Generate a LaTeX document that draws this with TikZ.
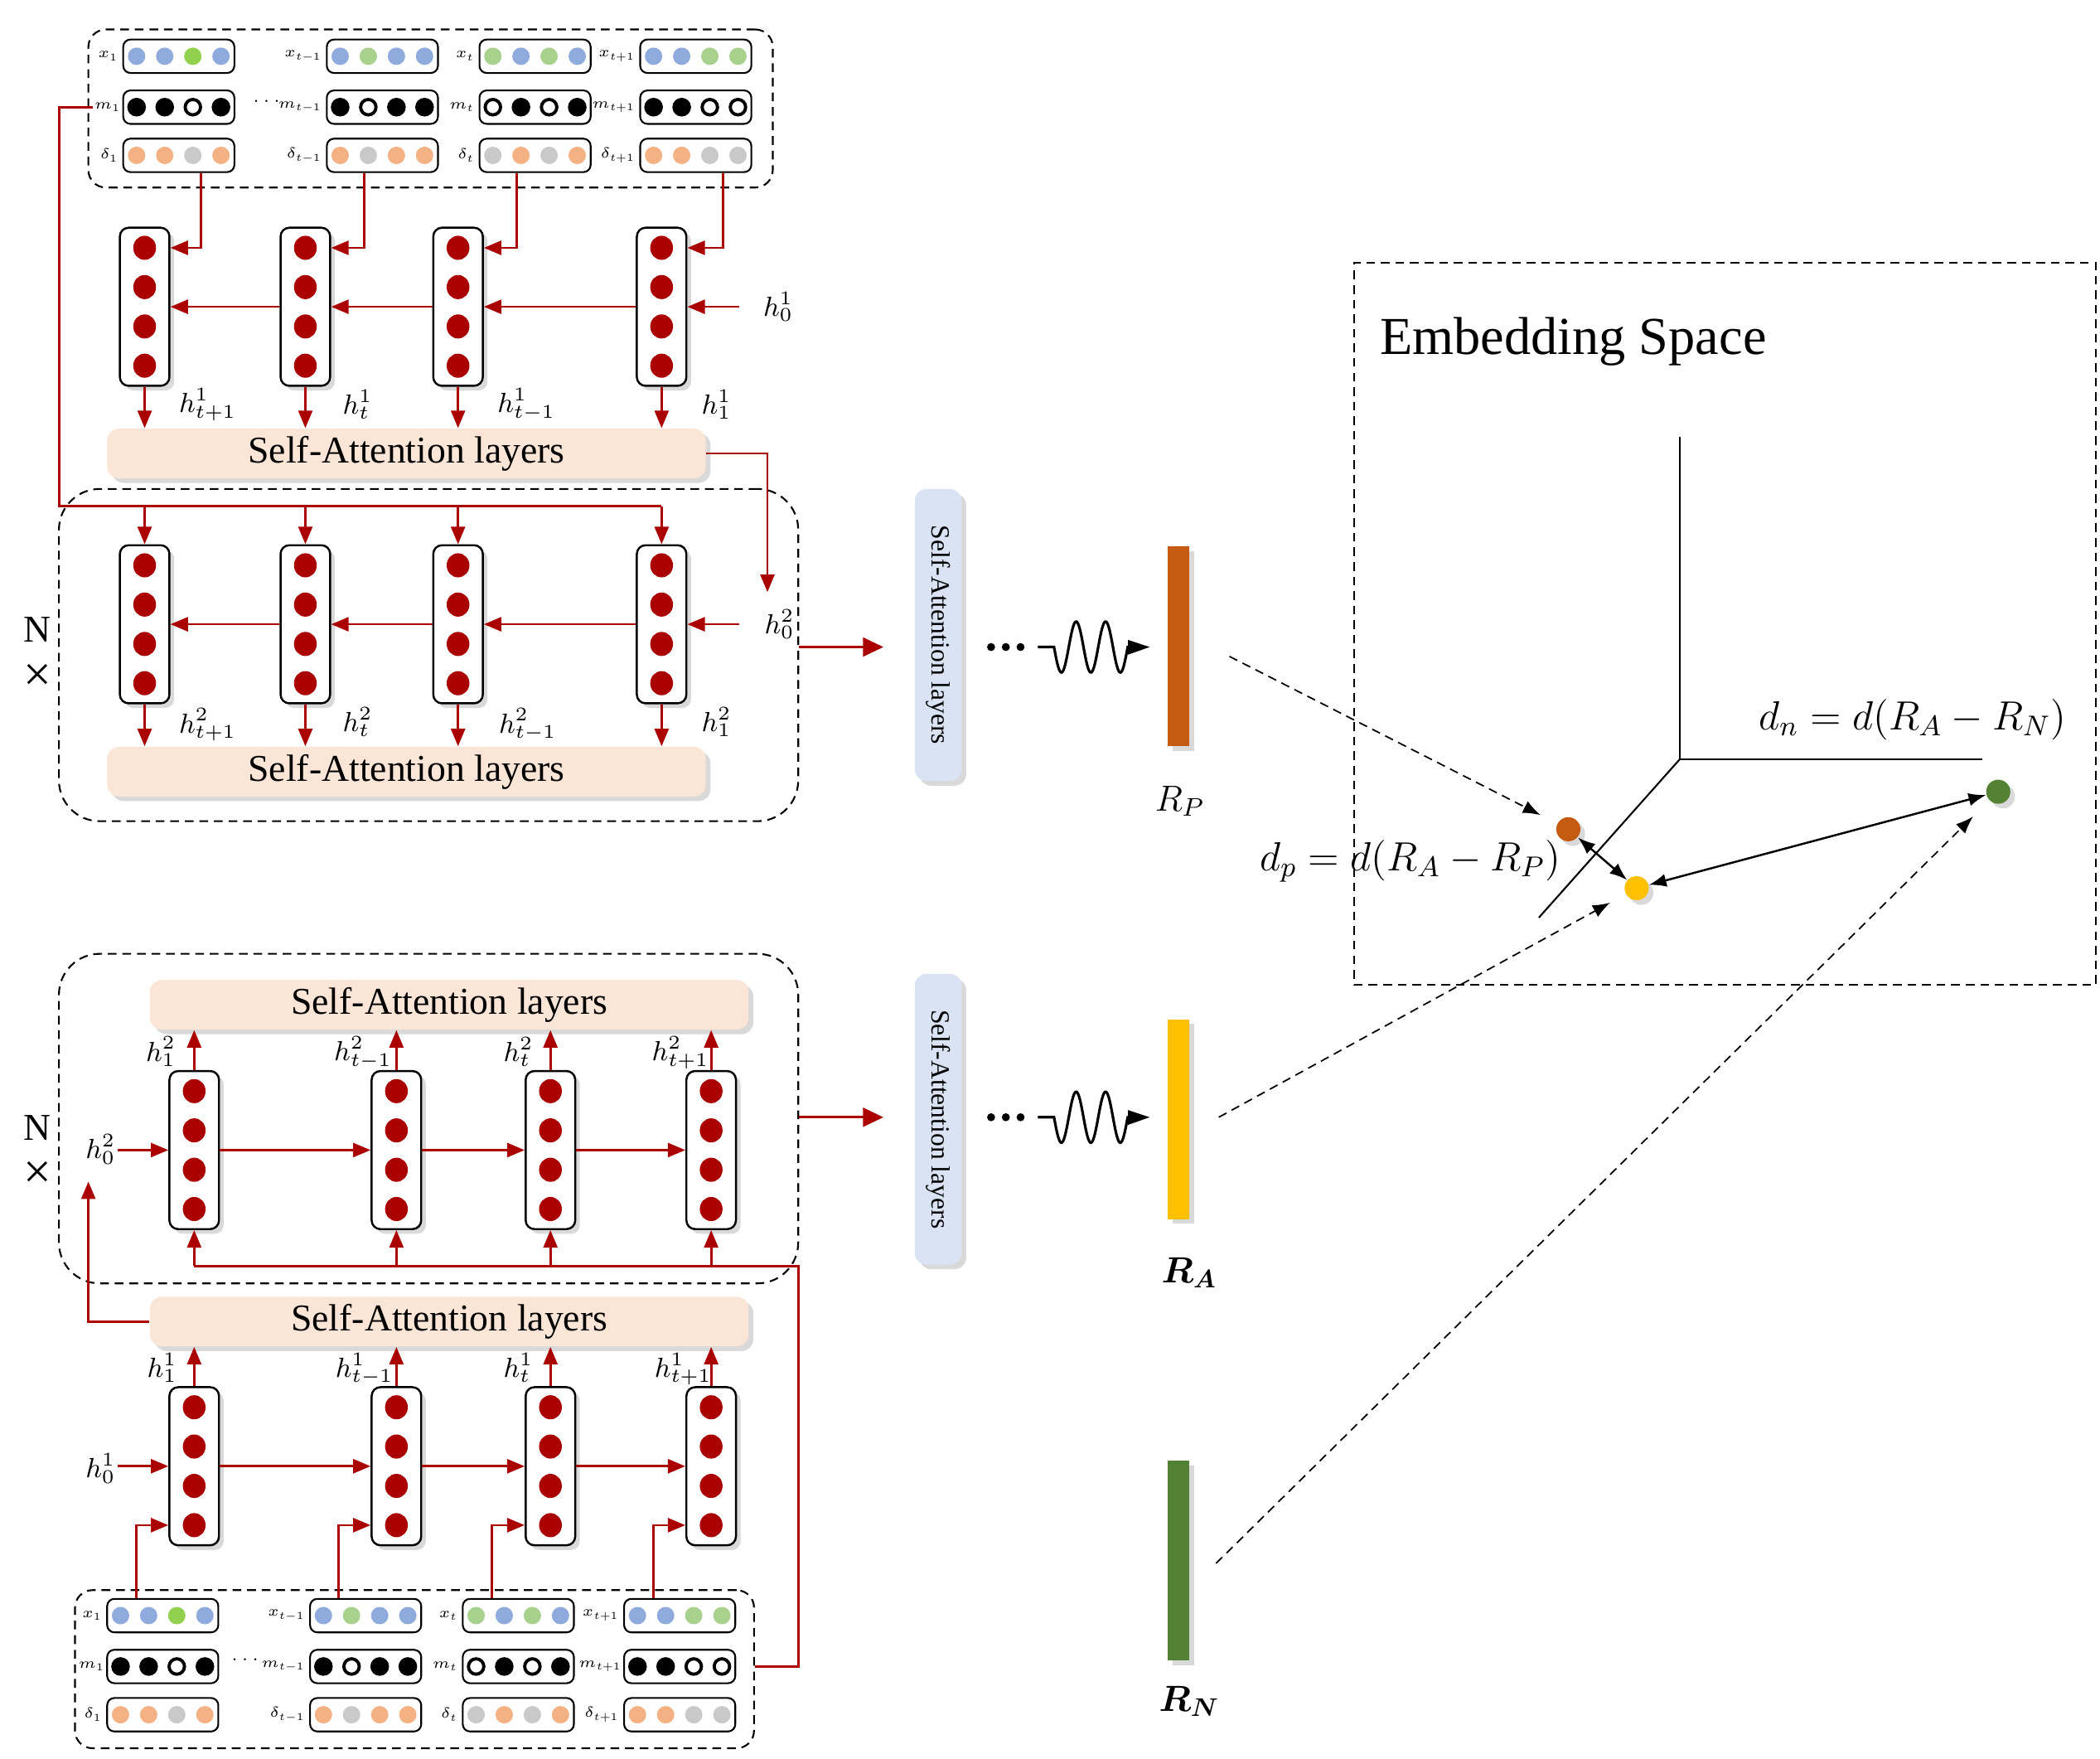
\RequirePackage{fix-cm}
\documentclass[tikz,border=0pt]{standalone}
\usepackage{fontspec}
\setmainfont{Liberation Serif}
\usepackage{bm}
\usepackage{graphicx}
\usetikzlibrary{arrows.meta,shadows,shapes.geometric,calc}
\DeclareMathSizes{5}{5}{3.6}{3}
\newdimen\uu \uu=0.01616cm
\definecolor{rnnred}{RGB}{170,0,0}
\definecolor{peach}{RGB}{251,229,214}
\definecolor{sablue}{RGB}{218,227,243}
\definecolor{xblue}{RGB}{143,170,220}
\definecolor{xgreen}{RGB}{169,209,142}
\definecolor{xlime}{RGB}{146,208,80}
\definecolor{dorange}{RGB}{244,177,131}
\definecolor{dgrey}{RGB}{201,201,201}
\definecolor{rpcol}{RGB}{197,90,17}
\definecolor{racol}{RGB}{255,192,0}
\definecolor{rncol}{RGB}{84,130,53}
\tikzset{
 shad/.style={drop shadow={opacity=0.3, shadow xshift=1.6pt, shadow yshift=-1.6pt}},
 col/.style={draw=black, line width=0.7pt, rounded corners=3pt, fill=white, minimum width=37*\uu, minimum height=118*\uu, inner sep=0pt, shad},
 rdot/.style={ellipse, fill=rnnred, minimum width=17*\uu, minimum height=18*\uu, inner sep=0pt},
 sabox/.style={fill=peach, rounded corners=4pt, minimum width=447*\uu, minimum height=37*\uu, inner sep=0pt, font=\fontsize{13}{15}\selectfont, shad},
 vbox/.style={fill=sablue, rounded corners=4pt, minimum width=35*\uu, minimum height=218*\uu, inner sep=0pt, shad},
 ibox/.style={draw=black, line width=0.6pt, rounded corners=2.5pt, fill=white, minimum width=83*\uu, minimum height=25*\uu, inner sep=0pt},
 idot/.style={circle, minimum size=13*\uu, inner sep=0pt},
 mdot/.style={circle, draw=black, line width=1.1pt, minimum size=11.5*\uu, inner sep=0pt},
 ilab/.style={font=\fontsize{5}{6}\selectfont, inner sep=1.2pt, anchor=east},
 hlab/.style={font=\fontsize{9.5}{11}\selectfont, inner sep=0pt},
 rline/.style={draw=rnnred, line width=0.8pt},
 rarr/.style={rline, -{Triangle[length=6pt,width=4.8pt]}},
 oarr/.style={rline, -{Triangle[length=7pt,width=6.5pt]}},
 dbox/.style={draw=black, line width=0.6pt, dash pattern=on 3pt off 2pt, rounded corners=14pt, inner sep=0pt},
 bar/.style={minimum width=16*\uu, minimum height=149*\uu, inner sep=0pt, shad},
 edot/.style={circle, minimum size=18*\uu, inner sep=0pt, shad},
 sdot/.style={circle, fill=black, minimum size=6*\uu, inner sep=0pt},
 dasharr/.style={draw=black, line width=0.5pt, dash pattern=on 3pt off 2pt, -{Latex[length=6pt,width=4.5pt]}},
 darr/.style={draw=black, line width=0.7pt, {Latex[length=6pt,width=4.5pt]}-{Latex[length=6pt,width=4.5pt]}},
 wavearr/.style={draw=black, line width=0.9pt, -{Triangle[length=7.5pt,width=4.8pt]}},
 bigtxt/.style={font=\fontsize{13}{15}\selectfont, inner sep=0pt},
}
\newcommand\ibx[5]{%
  \node[ibox] (#1) at (#2,#3) {};
  \foreach \s [count=\k] in {#5} \node[#4, fill=\s] (#1-\k) at ($(#1)+({21*\k-52.5},0)$) {};
}
\newcommand\colm[3]{%
  \node[col] (#1) at (#2,#3) {};
  \foreach \dy [count=\k] in {-44,-14.7,14.7,44} \node[rdot] (#1-\k) at ($(#1)+(0,\dy)$) {};
}
\begin{document}
\begin{tikzpicture}[x=\uu,y=-\uu]
\useasboundingbox (0,0) rectangle (1568,1313);

%% ================= TOP BRANCH =================
\node[dbox, rounded corners=6pt, minimum width=511*\uu, minimum height=118*\uu] (TIN) at (321.5,81) {};
\ibx{Tx1}{133.5}{42}{idot}{xblue,xblue,xlime,xblue}
\ibx{Tx2}{285.5}{42}{idot}{xblue,xgreen,xblue,xblue}
\ibx{Tx3}{399.5}{42}{idot}{xgreen,xblue,xgreen,xblue}
\ibx{Tx4}{519.5}{42}{idot}{xblue,xblue,xgreen,xgreen}
\ibx{Tm1}{133.5}{80}{mdot}{black,black,white,black}
\ibx{Tm2}{285.5}{80}{mdot}{black,white,black,black}
\ibx{Tm3}{399.5}{80}{mdot}{white,black,white,black}
\ibx{Tm4}{519.5}{80}{mdot}{black,black,white,white}
\ibx{Td1}{133.5}{116}{idot}{dorange,dorange,dgrey,dorange}
\ibx{Td2}{285.5}{116}{idot}{dorange,dgrey,dorange,dorange}
\ibx{Td3}{399.5}{116}{idot}{dgrey,dorange,dgrey,dorange}
\ibx{Td4}{519.5}{116}{idot}{dorange,dorange,dgrey,dgrey}
\node[ilab] (Tlx1) at (Tx1.west) {$x_1$};
\node[ilab] (Tlx2) at (Tx2.west) {$x_{t-1}$};
\node[ilab] (Tlx3) at (Tx3.west) {$x_t$};
\node[ilab] (Tlx4) at (Tx4.west) {$x_{t+1}$};
\node[ilab, inner sep=0.3pt] (Tlm1) at (Tm1.west) {$m_1$};
\node[ilab] (Tlm2) at (Tm2.west) {$m_{t-1}$};
\node[ilab] (Tlm3) at (Tm3.west) {$m_t$};
\node[ilab] (Tlm4) at (Tm4.west) {$m_{t+1}$};
\node[ilab] (Tld1) at (Td1.west) {$\delta_1$};
\node[ilab] (Tld2) at (Td2.west) {$\delta_{t-1}$};
\node[ilab] (Tld3) at (Td3.west) {$\delta_t$};
\node[ilab] (Tld4) at (Td4.west) {$\delta_{t+1}$};
\node[font=\fontsize{6}{7}\selectfont, inner sep=0pt] (Tdots) at (199,76) {$\cdots$};

% layer 1 (top)
\colm{TA1}{108}{229}
\colm{TB1}{228}{229}
\colm{TC1}{342}{229}
\colm{TD1}{494}{229}
\node[sabox] (TSA1) at (303.5,338.5) {Self-Attention layers};
\foreach \c/\d/\off in {TA1/Td1/16.5, TB1/Td2/-13.5, TC1/Td3/-13.5, TD1/Td4/20.5}
  \draw[rarr] ($(\d.south)+(\off,0)$) |- (\c.east |- \c-1);
\draw[rarr] (TD1.west) -- (TC1.east);
\draw[rarr] (TC1.west) -- (TB1.east);
\draw[rarr] (TB1.west) -- (TA1.east);
\coordinate (h01s) at (552,229);
\draw[rarr] (h01s) -- (TD1.east);
\node[hlab] (h01) at (581,229) {$h_0^1$};
\foreach \c in {TA1,TB1,TC1,TD1} \draw[rarr] (\c.south) -- (\c.south |- TSA1.north);
\node[hlab] (Tl1a) at (155,302) {$h^1_{t+1}$};
\node[hlab] (Tl1b) at (267,302) {$h^1_{t}$};
\node[hlab] (Tl1c) at (393,302) {$h^1_{t-1}$};
\node[hlab] (Tl1d) at (535,302) {$h^1_{1}$};

% layer 2 (top)
\node[dbox, minimum width=552*\uu, minimum height=248*\uu] (NB1) at (320,489) {};
\colm{TA2}{108}{466}
\colm{TB2}{228}{466}
\colm{TC2}{342}{466}
\colm{TD2}{494}{466}
\node[sabox] (TSA2) at (303.5,576) {Self-Attention layers};
\coordinate (mb) at (44,378);
\draw[rline] (Tlm1.west) -| (mb) -- (mb -| TD2.north);
\foreach \c in {TA2,TB2,TC2,TD2} \draw[rarr] (mb -| \c.north) -- (\c.north);
\coordinate (h02t) at (573,442);
\draw[rarr] (TSA1.east) -| (h02t);
\draw[rarr] (TD2.west) -- (TC2.east);
\draw[rarr] (TC2.west) -- (TB2.east);
\draw[rarr] (TB2.west) -- (TA2.east);
\coordinate (h02s) at (552,466);
\draw[rarr] (h02s) -- (TD2.east);
\node[hlab] (h02) at (582,466) {$h_0^2$};
\foreach \c in {TA2,TB2,TC2,TD2} \draw[rarr] (\c.south) -- (\c.south |- TSA2.north);
\node[hlab] (Tl2a) at (155,541) {$h^2_{t+1}$};
\node[hlab] (Tl2b) at (267,539) {$h^2_{t}$};
\node[hlab] (Tl2c) at (394,541) {$h^2_{t-1}$};
\node[hlab] (Tl2d) at (535,539) {$h^2_{1}$};
\node[bigtxt] (N1) at (28,470) {N};
\node[bigtxt, font=\fontsize{17}{18}\selectfont] (X1) at (28,506) {×};

% output chain (top)
\node[vbox] (V1) at (700.5,474) {\rotatebox{-90}{\fontsize{9}{10}\selectfont Self-Attention layers}};
\node[sdot] (dt1a) at (740,483) {};
\node[sdot] (dt1b) at (751,483) {};
\node[sdot] (dt1c) at (762,483) {};
\draw[oarr] (NB1.east |- dt1a) -- ($(V1.west |- dt1a)+(-23,0)$);
\node[bar, fill=rpcol] (RP) at (880,482.5) {};
\draw[wavearr] ($(dt1c)+(13,0)$) -- (787,483) -- plot[domain=0:2.5, samples=90, smooth] ({787+22*\x},{483+19*sin(360*\x)}) -- ($(RP.west |- dt1a)+(-13,0)$);
\node[font=\fontsize{12.5}{14}\selectfont, inner sep=0pt] (lRP) at (881,598) {$R_P$};

%% ================= BOTTOM BRANCH =================
\node[dbox, minimum width=552*\uu, minimum height=246*\uu] (NB2) at (320,835) {};
\node[sabox] (BSA2) at (335.5,750) {Self-Attention layers};
\colm{BA2}{145}{858.5}
\colm{BB2}{296}{858.5}
\colm{BC2}{411}{858.5}
\colm{BD2}{531}{858.5}
\draw[rarr] (BA2.east) -- (BB2.west);
\draw[rarr] (BB2.east) -- (BC2.west);
\draw[rarr] (BC2.east) -- (BD2.west);
\coordinate (bh02s) at (88,858.5);
\draw[rarr] (bh02s) -- (BA2.west);
\node[hlab] (bh02) at (75,858) {$h_0^2$};
\foreach \c in {BA2,BB2,BC2,BD2} \draw[rarr] (\c.north) -- (\c.north |- BSA2.south);
\node[hlab] (Bl2a) at (120,785) {$h^2_{1}$};
\node[hlab] (Bl2b) at (271,786) {$h^2_{t-1}$};
\node[hlab] (Bl2c) at (387,785) {$h^2_{t}$};
\node[hlab] (Bl2d) at (508,786) {$h^2_{t+1}$};
\node[bigtxt] (N2) at (28,842) {N};
\node[bigtxt, font=\fontsize{17}{18}\selectfont] (X2) at (28,877) {×};

\node[sabox] (BSA1) at (335.5,986.5) {Self-Attention layers};
\coordinate (ba) at (66,882);
\draw[rarr] (BSA1.west) -| (ba);
\colm{BA1}{145}{1094.5}
\colm{BB1}{296}{1094.5}
\colm{BC1}{411}{1094.5}
\colm{BD1}{531}{1094.5}
\draw[rarr] (BA1.east) -- (BB1.west);
\draw[rarr] (BB1.east) -- (BC1.west);
\draw[rarr] (BC1.east) -- (BD1.west);
\coordinate (bh01s) at (88,1094.5);
\draw[rarr] (bh01s) -- (BA1.west);
\node[hlab] (bh01) at (75,1096) {$h_0^1$};
\foreach \c in {BA1,BB1,BC1,BD1} \draw[rarr] (\c.north) -- (\c.north |- BSA1.south);
\node[hlab] (Bl1a) at (121,1021) {$h^1_{1}$};
\node[hlab] (Bl1b) at (272,1022) {$h^1_{t-1}$};
\node[hlab] (Bl1c) at (387,1021) {$h^1_{t}$};
\node[hlab] (Bl1d) at (510,1022) {$h^1_{t+1}$};

% bottom inputs
\node[dbox, rounded corners=6pt, minimum width=507*\uu, minimum height=118*\uu] (BIN) at (309.5,1246) {};
\ibx{Bx1}{121.5}{1206}{idot}{xblue,xblue,xlime,xblue}
\ibx{Bx2}{273}{1206}{idot}{xblue,xgreen,xblue,xblue}
\ibx{Bx3}{387}{1206}{idot}{xgreen,xblue,xgreen,xblue}
\ibx{Bx4}{507.5}{1206}{idot}{xblue,xblue,xgreen,xgreen}
\ibx{Bm1}{121.5}{1244}{mdot}{black,black,white,black}
\ibx{Bm2}{273}{1244}{mdot}{black,white,black,black}
\ibx{Bm3}{387}{1244}{mdot}{white,black,white,black}
\ibx{Bm4}{507.5}{1244}{mdot}{black,black,white,white}
\ibx{Bd1}{121.5}{1280}{idot}{dorange,dorange,dgrey,dorange}
\ibx{Bd2}{273}{1280}{idot}{dorange,dgrey,dorange,dorange}
\ibx{Bd3}{387}{1280}{idot}{dgrey,dorange,dgrey,dorange}
\ibx{Bd4}{507.5}{1280}{idot}{dorange,dorange,dgrey,dgrey}
\node[ilab] (Blx1) at (Bx1.west) {$x_1$};
\node[ilab] (Blx2) at (Bx2.west) {$x_{t-1}$};
\node[ilab] (Blx3) at (Bx3.west) {$x_t$};
\node[ilab] (Blx4) at (Bx4.west) {$x_{t+1}$};
\node[ilab, inner sep=0.3pt] (Blm1) at (Bm1.west) {$m_1$};
\node[ilab] (Blm2) at (Bm2.west) {$m_{t-1}$};
\node[ilab] (Blm3) at (Bm3.west) {$m_t$};
\node[ilab, inner sep=0.3pt] (Blm4) at (Bm4.west) {$m_{t+1}$};
\node[ilab] (Bld1) at (Bd1.west) {$\delta_1$};
\node[ilab] (Bld2) at (Bd2.west) {$\delta_{t-1}$};
\node[ilab] (Bld3) at (Bd3.west) {$\delta_t$};
\node[ilab] (Bld4) at (Bd4.west) {$\delta_{t+1}$};
\node[font=\fontsize{6}{7}\selectfont, inner sep=0pt] (Bdots) at (183,1239) {$\cdots$};
\foreach \c/\b/\off in {BA1/Bx1/-19.5, BB1/Bx2/-20, BC1/Bx3/-20, BD1/Bx4/-19.5}
  \draw[rarr] ($(\b.north)+(\off,0)$) |- (\c.west |- \c-4);
\coordinate (bb) at (596,945);
\draw[rline] (BIN.east |- Bm4) -| (bb) -- (bb -| BA2.south);
\foreach \c in {BA2,BB2,BC2,BD2} \draw[rarr] (bb -| \c.south) -- (\c.south);

% output chain (bottom)
\node[vbox, minimum height=217*\uu] (V2) at (700.5,835.5) {\rotatebox{-90}{\fontsize{9}{10}\selectfont Self-Attention layers}};
\node[sdot] (dt2a) at (740,834) {};
\node[sdot] (dt2b) at (751,834) {};
\node[sdot] (dt2c) at (762,834) {};
\draw[oarr] (NB2.east |- dt2a) -- ($(V2.west |- dt2a)+(-23,0)$);
\node[bar, fill=racol] (RA) at (880,835.5) {};
\draw[wavearr] ($(dt2c)+(13,0)$) -- (787,834) -- plot[domain=0:2.5, samples=90, smooth] ({787+22*\x},{834+19*sin(360*\x)}) -- ($(RA.west |- dt2a)+(-13,0)$);
\node[font=\fontsize{12.5}{14}\selectfont, inner sep=0pt] (lRA) at (888,950) {$\bm{R_A}$};
\node[bar, fill=rncol] (RN) at (880,1165) {};
\node[font=\fontsize{12.5}{14}\selectfont, inner sep=0pt] (lRN) at (888,1270) {$\bm{R_N}$};

%% ================= EMBEDDING SPACE =================
\node[draw, densely dashed, line width=0.5pt, minimum width=554*\uu, minimum height=539*\uu, inner sep=0pt] (ES) at (1288,465.5) {};
\node[anchor=west, font=\fontsize{18.3}{21}\selectfont, inner sep=0pt] (EST) at (1030,255) {Embedding Space};
\coordinate (O) at (1254,567);
\coordinate (Oup) at (1254,326);
\coordinate (Orr) at (1480,567);
\coordinate (Odl) at (1149,685);
\draw[line width=0.6pt] (Oup) -- (O) -- (Orr);
\draw[line width=0.6pt] (O) -- (Odl);
\node[edot, fill=rpcol] (PO) at (1171,619) {};
\node[edot, fill=racol] (PA) at (1222,663) {};
\node[edot, fill=rncol] (PN) at (1492,591) {};
\draw[darr] (PO) -- (PA);
\draw[darr] (PA) -- (PN);
\node[font=\fontsize{14}{16}\selectfont, inner sep=0pt] (dp) at (1053,643) {$d_p = d(R_A - R_P)$};
\node[font=\fontsize{14}{16}\selectfont, inner sep=0pt] (dn) at (1428,537) {$d_n = d(R_A - R_N)$};
\coordinate (RPo) at (918,490);
\coordinate (RAo) at (910,834);
\coordinate (RNo) at (908,1167);
\draw[dasharr, shorten >=6.4pt] (RPo) -- (PO);
\draw[dasharr, shorten >=6pt] (RAo) -- (PA);
\draw[dasharr, shorten >=7.8pt] (RNo) -- (PN);
\end{tikzpicture}
\end{document}
